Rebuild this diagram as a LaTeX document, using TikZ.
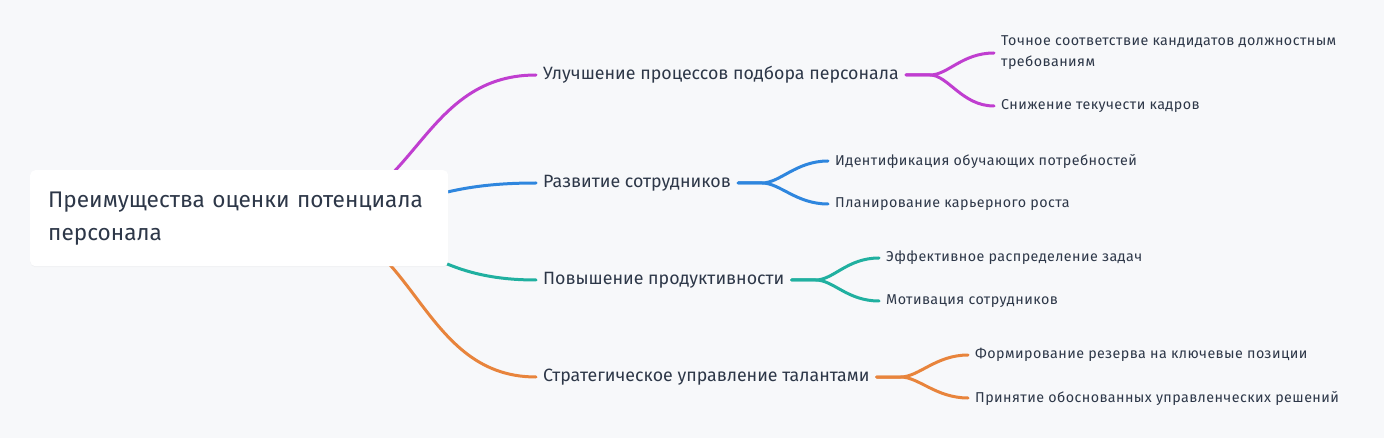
\documentclass[tikz,border=0pt]{standalone}
\usepackage{fontspec}
\setmainfont{Fira Sans}
\newfontfamily\leaffont[LetterSpace=3]{Fira Sans}
\usetikzlibrary{positioning, calc, shadows}

\definecolor{bgpaper}{RGB}{247, 248, 250}
\definecolor{inkdark}{RGB}{45, 55, 72}
\definecolor{brpurple}{RGB}{192, 62, 208}
\definecolor{brblue}{RGB}{46, 134, 222}
\definecolor{brteal}{RGB}{32, 176, 160}
\definecolor{brorange}{RGB}{232, 132, 60}

\begin{document}
\begin{tikzpicture}[
  x=1pt, y=-1pt,
  rootbox/.style={fill=white, rounded corners=5pt, anchor=north west, minimum width=418pt, minimum height=96pt,
    text width=382pt, inner xsep=18pt, align=left, text=inkdark, font=\fontsize{22.6}{33}\selectfont,
    drop shadow={opacity=0.05, shadow xshift=0pt, shadow yshift=-1pt}},
  topic/.style={anchor=west, inner xsep=7pt, inner ysep=0pt, text=inkdark, font=\fontsize{17.8}{20}\selectfont},
  leaf/.style={anchor=west, inner xsep=7pt, inner ysep=0pt, align=left, text=inkdark, font=\leaffont\fontsize{14.3}{21}\selectfont},
  branch/.style={line width=3pt, line cap=round}
]
  \fill[bgpaper] (0,0) rectangle (1384,438);
  \useasboundingbox (0,0) rectangle (1384,438);

  \coordinate (src) at (296,218);

  % main topics
  \node[topic] (hire) at (536,75) {Улучшение процессов подбора персонала};
  \node[topic] (grow) at (536,183) {Развитие сотрудников};
  \node[topic] (prod) at (536,280) {Повышение продуктивности};
  \node[topic] (talent) at (536,377) {Стратегическое управление талантами};

  % leaves
  \node[leaf] (fit) at (994,53) {Точное соответствие кандидатов должностным\\требованиям};
  \node[leaf] (churn) at (994,106) {Снижение текучести кадров};
  \node[leaf] (needs) at (828,161) {Идентификация обучающих потребностей};
  \node[leaf] (career) at (828,204) {Планирование карьерного роста};
  \node[leaf] (tasks) at (879,258) {Эффективное распределение задач};
  \node[leaf] (motiv) at (879,301) {Мотивация сотрудников};
  \node[leaf] (reserve) at (968,355) {Формирование резерва на ключевые позиции};
  \node[leaf] (decide) at (968,398) {Принятие обоснованных управленческих решений};

  % root to topics
  \draw[branch, brpurple] (src) .. controls (416,218) and (416,75) .. (hire.west);
  \draw[branch, brblue] (src) .. controls (416,218) and (416,183) .. (grow.west);
  \draw[branch, brteal] (src) .. controls (416,218) and (416,280) .. (prod.west);
  \draw[branch, brorange] (src) .. controls (416,218) and (416,377) .. (talent.west);

  % topics to leaves
  \foreach \from/\to/\col in {hire/fit/brpurple, hire/churn/brpurple, grow/needs/brblue, grow/career/brblue,
                              prod/tasks/brteal, prod/motiv/brteal, talent/reserve/brorange, talent/decide/brorange}
    \draw[branch, \col] (\from.east) -- ++(24,0) .. controls +(18,0) and +(-32,0) .. (\to.west);

  \node[rootbox] (root) at (30,170) {Преимущества оценки потенциала персонала};
\end{tikzpicture}
\end{document}
